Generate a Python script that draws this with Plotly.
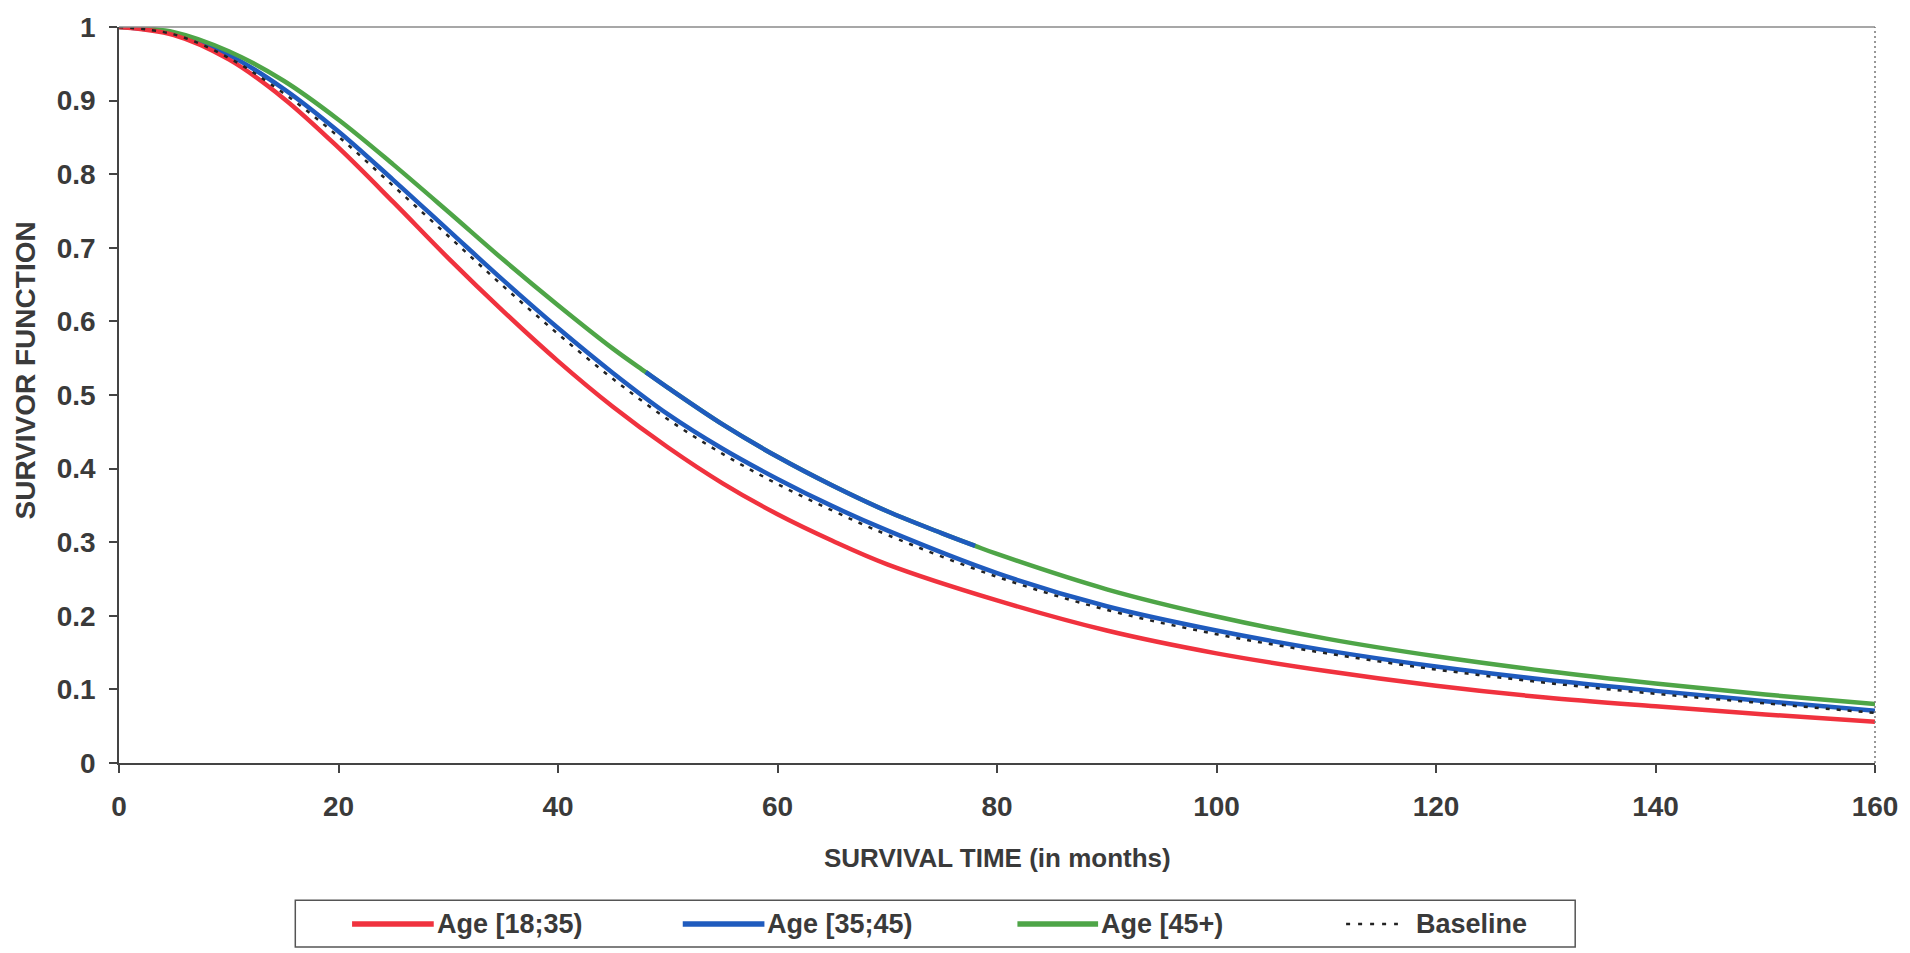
import plotly.graph_objects as go

# ---- data ----
months = [0, 5, 10, 15, 20, 25, 30, 35, 40, 45, 50, 55, 60, 65, 70, 80, 90, 100, 110, 120, 130, 140, 150, 160]
age_18_35 = [1.0, 0.989, 0.956, 0.903, 0.836, 0.762, 0.686, 0.614, 0.546, 0.484, 0.429, 0.380, 0.338, 0.302, 0.270, 0.221, 0.180, 0.149, 0.125, 0.105, 0.089, 0.077, 0.066, 0.056]
age_35_45 = [1.0, 0.991, 0.962, 0.916, 0.858, 0.792, 0.724, 0.656, 0.591, 0.530, 0.474, 0.427, 0.386, 0.349, 0.316, 0.258, 0.213, 0.180, 0.153, 0.131, 0.113, 0.098, 0.084, 0.071]
baseline = [1.0, 0.990, 0.958, 0.910, 0.851, 0.784, 0.716, 0.648, 0.583, 0.522, 0.467, 0.420, 0.379, 0.343, 0.310, 0.253, 0.208, 0.175, 0.149, 0.127, 0.109, 0.094, 0.081, 0.068]
months_45 = [0, 5, 10, 15, 20, 25, 30, 35, 40, 45, 48, 50, 55, 60, 65, 70, 75, 78, 80, 90, 100, 110, 120, 130, 140, 150, 160]
age_45_plus = [1.0, 0.993, 0.967, 0.927, 0.874, 0.813, 0.749, 0.684, 0.622, 0.563, 0.531, 0.510, 0.460, 0.416, 0.377, 0.342, 0.312, 0.295, 0.284, 0.236, 0.199, 0.169, 0.145, 0.125, 0.108, 0.093, 0.080]
recoloured_span = (48, 78)  # part of the 45+ curve printed in blue in the source

x_ticks = [0, 20, 40, 60, 80, 100, 120, 140, 160]
y_ticks = [0, 0.1, 0.2, 0.3, 0.4, 0.5, 0.6, 0.7, 0.8, 0.9, 1]
y_tick_text = ["0", "0.1", "0.2", "0.3", "0.4", "0.5", "0.6", "0.7", "0.8", "0.9", "1"]

names = ["Age [18;35)", "Age [35;45)", "Age [45+)", "Baseline"]
RED, BLUE, GREEN, BLACK = "#F0323E", "#1F5BBE", "#4EA547", "#222222"
TXT = "#3a3a3a"
FONT = "Arial, Liberation Sans, sans-serif"
LW = 4.5
DASH = "4px,7px"

fig = go.Figure()
fig.add_trace(go.Scatter(x=months, y=age_35_45, mode="lines", name=names[1],
                         line=dict(color=BLUE, width=LW, shape="spline"), showlegend=False))
fig.add_trace(go.Scatter(x=months_45, y=age_45_plus, mode="lines", name=names[2],
                         line=dict(color=GREEN, width=LW, shape="spline"), showlegend=False))
seg = [i for i, t in enumerate(months_45) if recoloured_span[0] <= t <= recoloured_span[1]]
fig.add_trace(go.Scatter(x=[months_45[i] for i in seg], y=[age_45_plus[i] for i in seg], mode="lines",
                         name=names[2], line=dict(color=BLUE, width=LW, shape="spline"),
                         showlegend=False, hoverinfo="skip"))
fig.add_trace(go.Scatter(x=months, y=age_18_35, mode="lines", name=names[0],
                         line=dict(color=RED, width=LW, shape="spline"), showlegend=False))
fig.add_trace(go.Scatter(x=months, y=baseline, mode="lines", name=names[3],
                         line=dict(color=BLACK, width=2.5, dash=DASH, shape="spline"), showlegend=False))

# plot area in pixels
L, R, T, B = 119, 1882, 23, 763
W, H = 1910, 953
pw, ph = R - L, B - T


def px(xp):
    return (xp - L) / pw


def py(yp):
    return (B - yp) / ph


shapes = []
annotations = []
# top and right frame lines (lighter than the axes)
shapes.append(dict(type="line", xref="paper", yref="paper", x0=0, x1=1, y0=1, y1=1,
                   line=dict(color="#8a8a8a", width=1.5)))
shapes.append(dict(type="line", xref="paper", yref="paper", x0=1, x1=1, y0=0, y1=1,
                   line=dict(color="#777777", width=1.5, dash="2px,3px")))
# legend box
shapes.append(dict(type="rect", xref="paper", yref="paper", x0=px(296), x1=px(1581), y0=py(948), y1=py(901),
                   line=dict(color="#555555", width=1.5), fillcolor="white"))
ly = py(925)
legend_items = [
    (names[0], RED, None, 353, 435, 436),
    (names[1], BLUE, None, 685, 767, 768),
    (names[2], GREEN, None, 1021, 1102, 1103),
    (names[3], BLACK, "4px,8px", 1351, 1403, 1419),
]
for name, col, dash, a, b, tx in legend_items:
    ln = dict(color=col, width=5.5 if dash is None else 2.5)
    if dash:
        ln["dash"] = dash
    shapes.append(dict(type="line", xref="paper", yref="paper", x0=px(a), x1=px(b), y0=ly, y1=ly, line=ln))
    annotations.append(dict(text=name, xref="paper", yref="paper", x=px(tx), y=ly, xanchor="left", yanchor="middle",
                            showarrow=False, font=dict(family=FONT, size=27, color=TXT, weight="bold")))

annotations.append(dict(text="SURVIVAL TIME (in months)", xref="paper", yref="paper", x=0.5, y=py(859),
                        xanchor="center", yanchor="middle", showarrow=False,
                        font=dict(family=FONT, size=26, color=TXT, weight="bold")))
annotations.append(dict(text="SURVIVOR FUNCTION", xref="paper", yref="paper", x=px(25), y=py(368),
                        xanchor="center", yanchor="middle", textangle=-90, showarrow=False,
                        font=dict(family=FONT, size=28, color=TXT, weight="bold")))

fig.update_layout(
    width=W, height=H,
    margin=dict(l=L, r=W - R, t=T, b=H - B, pad=0),
    paper_bgcolor="white", plot_bgcolor="white",
    showlegend=False,
    shapes=shapes, annotations=annotations,
    font=dict(family=FONT, color=TXT),
)
fig.update_xaxes(range=[0, 160], tickvals=x_ticks, ticks="outside", ticklen=8, tickwidth=1.5, tickcolor="#444",
                 showgrid=False, zeroline=False, showline=True, linecolor="#444", linewidth=1.5,
                 ticklabelstandoff=10, tickfont=dict(family=FONT, size=28, color=TXT, weight="bold"))
fig.update_yaxes(range=[0, 1], tickvals=y_ticks, ticktext=y_tick_text, ticks="outside", ticklen=8, tickwidth=1.5,
                 tickcolor="#444", showgrid=False, zeroline=False, showline=True, linecolor="#444", linewidth=1.5,
                 ticklabelstandoff=8, tickfont=dict(family=FONT, size=28, color=TXT, weight="bold"))

fig.write_html("out.html")
